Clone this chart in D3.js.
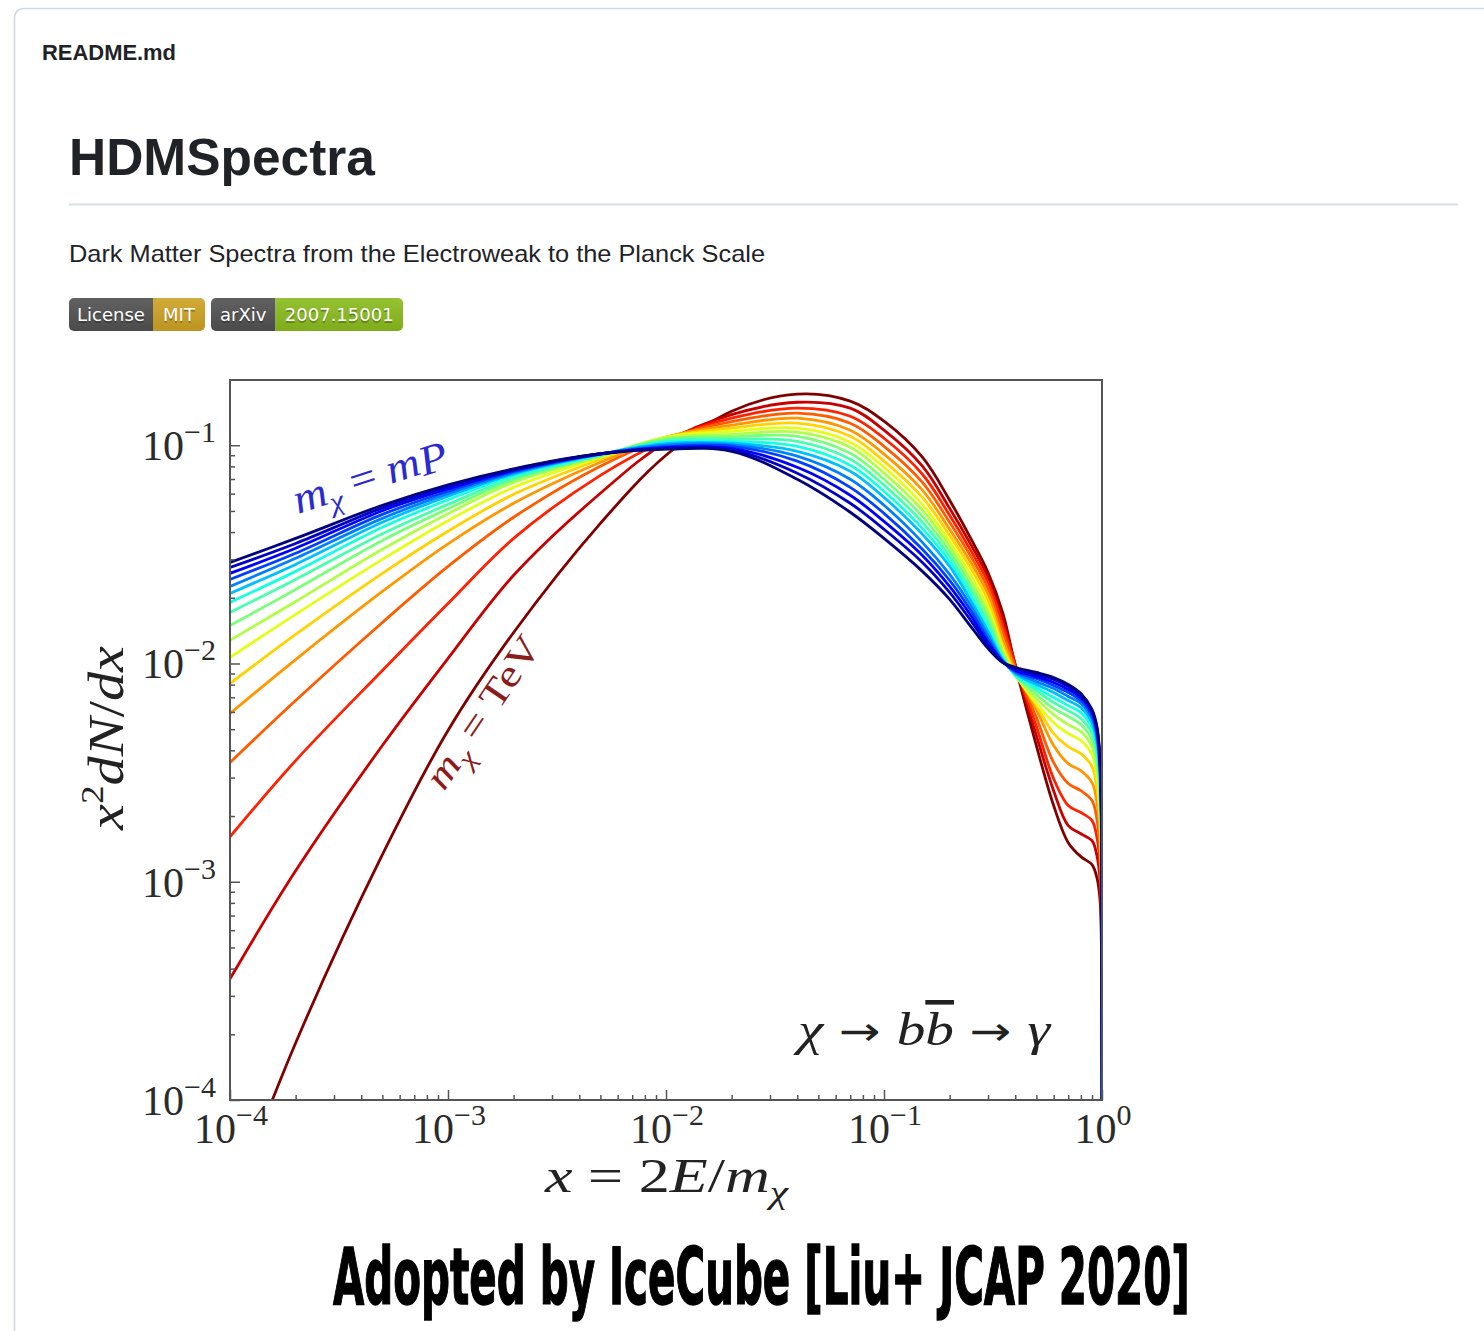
<!DOCTYPE html>
<html>
<head>
<meta charset="utf-8">
<script src="https://cdn.jsdelivr.net/npm/d3@7"></script>
<style>
  html, body { margin: 0; padding: 0; background: #ffffff; }
  svg { display: block; }
</style>
</head>
<body>
<svg id="page" width="1484" height="1331"></svg>
<script>
// ---- data: x = 2E/m_chi grid and log10(x^2 dN/dx) for chi -> b bbar -> gamma ----
const xGrid = [1e-4, 2e-4, 5e-4, 1e-3, 2e-3, 5e-3, 1e-2, 2e-2, 4e-2, 7e-2, 0.1, 0.15, 0.2, 0.25,
               0.3, 0.35, 0.4, 0.5, 0.6, 0.7, 0.8, 0.9, 0.95, 0.98, 0.995, 1.0];

// dark matter masses, log10(m_chi / GeV): 1 TeV up to the Planck mass
const log10Mass = [3, 4, 5, 6, 7, 8, 9, 10, 11, 12, 13, 14, 15, 16, 17, 18, 19.09];

const mx_1e03 = [-4.505, -3.739, -2.876, -2.307, -1.858, -1.358, -1.046, -0.844, -0.766, -0.798, -0.890, -1.055, -1.252, -1.427, -1.583, -1.766, -2.009, -2.376, -2.651, -2.821, -2.885, -2.922, -2.986, -3.087, -3.339, -6];
const mx_1e04 = [-3.445, -2.950, -2.376, -1.977, -1.596, -1.220, -0.986, -0.860, -0.803, -0.830, -0.931, -1.096, -1.289, -1.454, -1.606, -1.794, -2.005, -2.330, -2.583, -2.743, -2.780, -2.812, -2.885, -2.995, -3.271, -6];
const mx_1e05 = [-2.794, -2.445, -2.032, -1.725, -1.427, -1.138, -0.977, -0.876, -0.830, -0.867, -0.968, -1.133, -1.321, -1.482, -1.628, -1.821, -2.009, -2.289, -2.528, -2.651, -2.683, -2.720, -2.803, -2.927, -3.202, -6];
const mx_1e06 = [-2.454, -2.170, -1.812, -1.555, -1.330, -1.096, -0.968, -0.892, -0.853, -0.899, -1.005, -1.170, -1.353, -1.509, -1.656, -1.853, -2.018, -2.248, -2.454, -2.550, -2.583, -2.628, -2.720, -2.858, -3.142, -6];
const mx_1e07 = [-2.229, -1.982, -1.670, -1.452, -1.266, -1.078, -0.963, -0.908, -0.876, -0.931, -1.041, -1.206, -1.385, -1.537, -1.683, -1.885, -2.028, -2.211, -2.376, -2.459, -2.491, -2.546, -2.642, -2.794, -3.087, -6];
const mx_1e08 = [-2.092, -1.867, -1.587, -1.394, -1.225, -1.064, -0.963, -0.922, -0.899, -0.959, -1.073, -1.239, -1.413, -1.564, -1.711, -1.913, -2.041, -2.193, -2.321, -2.381, -2.413, -2.472, -2.578, -2.734, -3.032, -6];
const mx_1e09 = [-1.972, -1.775, -1.523, -1.346, -1.193, -1.055, -0.963, -0.936, -0.922, -0.986, -1.101, -1.271, -1.440, -1.592, -1.739, -1.931, -2.050, -2.183, -2.271, -2.321, -2.353, -2.417, -2.523, -2.683, -2.977, -6];
const mx_1e10 = [-1.894, -1.716, -1.477, -1.314, -1.170, -1.050, -0.968, -0.950, -0.940, -1.009, -1.128, -1.298, -1.463, -1.619, -1.766, -1.945, -2.055, -2.161, -2.234, -2.280, -2.312, -2.381, -2.482, -2.642, -2.931, -6];
const mx_1e11 = [-1.826, -1.661, -1.436, -1.291, -1.159, -1.048, -0.972, -0.961, -0.959, -1.037, -1.156, -1.326, -1.486, -1.642, -1.789, -1.959, -2.055, -2.142, -2.206, -2.243, -2.280, -2.349, -2.450, -2.606, -2.890, -6];
const mx_1e12 = [-1.766, -1.615, -1.406, -1.271, -1.150, -1.046, -0.979, -0.972, -0.982, -1.064, -1.183, -1.353, -1.509, -1.665, -1.812, -1.968, -2.055, -2.124, -2.179, -2.216, -2.252, -2.321, -2.417, -2.573, -2.853, -6];
const mx_1e13 = [-1.720, -1.578, -1.376, -1.250, -1.139, -1.044, -0.986, -0.982, -1.005, -1.092, -1.211, -1.381, -1.532, -1.688, -1.835, -1.977, -2.050, -2.110, -2.156, -2.193, -2.225, -2.294, -2.390, -2.546, -2.821, -6];
const mx_1e14 = [-1.679, -1.546, -1.353, -1.234, -1.132, -1.041, -0.993, -0.991, -1.028, -1.119, -1.239, -1.408, -1.555, -1.711, -1.853, -1.982, -2.046, -2.096, -2.133, -2.170, -2.202, -2.271, -2.367, -2.523, -2.794, -6];
const mx_1e15 = [-1.647, -1.518, -1.335, -1.222, -1.126, -1.041, -1.000, -0.998, -1.050, -1.156, -1.275, -1.445, -1.592, -1.734, -1.872, -1.986, -2.041, -2.083, -2.115, -2.151, -2.183, -2.252, -2.344, -2.500, -2.766, -6];
const mx_1e16 = [-1.615, -1.495, -1.317, -1.211, -1.121, -1.041, -1.007, -1.005, -1.073, -1.193, -1.312, -1.477, -1.619, -1.757, -1.890, -1.991, -2.037, -2.069, -2.101, -2.133, -2.170, -2.239, -2.326, -2.482, -2.748, -6];
const mx_1e17 = [-1.587, -1.472, -1.300, -1.200, -1.115, -1.039, -1.011, -1.014, -1.101, -1.229, -1.349, -1.505, -1.647, -1.780, -1.904, -1.991, -2.032, -2.060, -2.087, -2.119, -2.156, -2.225, -2.312, -2.468, -2.734, -6];
const mx_1e18 = [-1.560, -1.450, -1.287, -1.190, -1.112, -1.039, -1.016, -1.021, -1.128, -1.266, -1.385, -1.537, -1.674, -1.803, -1.917, -1.995, -2.023, -2.050, -2.073, -2.106, -2.147, -2.216, -2.303, -2.454, -2.725, -6];
const mx_mPl  = [-1.537, -1.427, -1.275, -1.181, -1.108, -1.039, -1.018, -1.028, -1.156, -1.307, -1.427, -1.578, -1.706, -1.830, -1.931, -1.995, -2.018, -2.041, -2.064, -2.096, -2.138, -2.211, -2.294, -2.445, -2.720, -6];

const spectra = [mx_1e03, mx_1e04, mx_1e05, mx_1e06, mx_1e07, mx_1e08, mx_1e09, mx_1e10, mx_1e11,
                 mx_1e12, mx_1e13, mx_1e14, mx_1e15, mx_1e16, mx_1e17, mx_1e18, mx_mPl];

// axis ticks
const xDecades = [1e-4, 1e-3, 1e-2, 1e-1, 1];
const xDecadeExp = ["\u22124", "\u22123", "\u22122", "\u22121", "0"];
const yDecades = [1e-4, 1e-3, 1e-2, 1e-1];
const yDecadeExp = ["\u22124", "\u22123", "\u22122", "\u22121"];
const yTop = 0.199;

// ---- page ----
const svg = d3.select("#page");
const uiFont = "'Liberation Sans', Arial, 'Noto Sans', sans-serif";
const mathFont = "'Liberation Serif', 'DejaVu Serif', serif";

svg.append("rect")
  .attr("x", 14.5).attr("y", 8.5).attr("width", 1520).attr("height", 1400)
  .attr("rx", 9).attr("fill", "#ffffff").attr("stroke", "#d0d7de").attr("stroke-width", 1.5);

svg.append("text").attr("x", 42).attr("y", 60)
  .attr("font-family", uiFont).attr("font-weight", 700).attr("font-size", 22)
  .attr("fill", "#1f2328").attr("textLength", 134).attr("lengthAdjust", "spacingAndGlyphs")
  .text("README.md");

svg.append("text").attr("x", 69).attr("y", 175)
  .attr("font-family", uiFont).attr("font-weight", 700).attr("font-size", 52)
  .attr("fill", "#1f2328").attr("textLength", 306).attr("lengthAdjust", "spacingAndGlyphs")
  .text("HDMSpectra");

svg.append("line").attr("x1", 69).attr("x2", 1458).attr("y1", 204.5).attr("y2", 204.5)
  .attr("stroke", "#d8dee4").attr("stroke-width", 2);

svg.append("text").attr("x", 69).attr("y", 262)
  .attr("font-family", uiFont).attr("font-size", 24)
  .attr("fill", "#1f2328").attr("textLength", 696).attr("lengthAdjust", "spacingAndGlyphs")
  .text("Dark Matter Spectra from the Electroweak to the Planck Scale");

// badges
const badges = [
  { label: "License", value: "MIT", x0: 69, x1: 153, x2: 205, color: "#d5a826" },
  { label: "arXiv", value: "2007.15001", x0: 211, x1: 275.5, x2: 403, color: "#8fc31f" }
];
const defs = svg.append("defs");
const gloss = defs.append("linearGradient").attr("id", "gloss").attr("x1", 0).attr("x2", 0).attr("y1", 0).attr("y2", 1);
gloss.append("stop").attr("offset", "0").attr("stop-color", "#bbbbbb").attr("stop-opacity", 0.12);
gloss.append("stop").attr("offset", "1").attr("stop-opacity", 0.12);
badges.forEach((b, i) => {
  const cid = "badgeClip" + i;
  defs.append("clipPath").attr("id", cid).append("rect")
    .attr("x", b.x0).attr("y", 298).attr("width", b.x2 - b.x0).attr("height", 33).attr("rx", 5);
  const g = svg.append("g").attr("clip-path", `url(#${cid})`);
  g.append("rect").attr("x", b.x0).attr("y", 298).attr("width", b.x1 - b.x0).attr("height", 33).attr("fill", "#555555");
  g.append("rect").attr("x", b.x1).attr("y", 298).attr("width", b.x2 - b.x1).attr("height", 33).attr("fill", b.color);
  g.append("rect").attr("x", b.x0).attr("y", 298).attr("width", b.x2 - b.x0).attr("height", 33).attr("fill", "url(#gloss)");
  [[b.label, (b.x0 + b.x1) / 2], [b.value, (b.x1 + b.x2) / 2]].forEach(([t, cx]) => {
    g.append("text").attr("x", cx).attr("y", 322.5).attr("text-anchor", "middle")
      .attr("font-family", "'DejaVu Sans', Verdana, sans-serif").attr("font-size", 18)
      .attr("fill", "#010101").attr("fill-opacity", 0.3).text(t);
    g.append("text").attr("x", cx).attr("y", 321).attr("text-anchor", "middle")
      .attr("font-family", "'DejaVu Sans', Verdana, sans-serif").attr("font-size", 18)
      .attr("fill", "#ffffff").text(t);
  });
});

// ---- chart ----
const plot = { left: 230, right: 1102, top: 380, bottom: 1100 };
const x = d3.scaleLog().domain([1e-4, 1]).range([plot.left, plot.right]);
const y = d3.scaleLog().domain([1e-4, yTop]).range([plot.bottom, plot.top]);

// matplotlib "jet" colour map, evaluated channel by channel
const jetR = d3.scaleLinear().domain([0, 0.35, 0.66, 0.89, 1]).range([0, 0, 1, 1, 0.5]).clamp(true);
const jetG = d3.scaleLinear().domain([0, 0.125, 0.375, 0.64, 0.91, 1]).range([0, 0, 1, 1, 0, 0]).clamp(true);
const jetB = d3.scaleLinear().domain([0, 0.11, 0.34, 0.65, 1]).range([0.5, 1, 1, 0, 0]).clamp(true);
const jet = t => d3.rgb(255 * jetR(t), 255 * jetG(t), 255 * jetB(t)).formatHex();
const massT = d3.scaleLinear().domain([0, log10Mass.length - 1]).range([1, 0]);

defs.append("clipPath").attr("id", "plotClip").append("rect")
  .attr("x", plot.left).attr("y", plot.top)
  .attr("width", plot.right - plot.left).attr("height", plot.bottom - plot.top);

const line = d3.line().x(d => x(d.x)).y(d => y(d.y)).curve(d3.curveCatmullRom.alpha(0.5));

const curves = svg.append("g").attr("clip-path", "url(#plotClip)");
spectra.forEach((s, i) => {
  const pts = xGrid.map((xv, k) => ({ x: xv, y: Math.pow(10, s[k]) }));
  curves.append("path").datum(pts)
    .attr("d", line)
    .attr("fill", "none")
    .attr("stroke", jet(massT(i)))
    .attr("stroke-width", 2.8)
    .attr("stroke-linejoin", "round");
});

// frame
svg.append("rect").attr("x", plot.left).attr("y", plot.top)
  .attr("width", plot.right - plot.left).attr("height", plot.bottom - plot.top)
  .attr("fill", "none").attr("stroke", "#555555").attr("stroke-width", 2);

// ticks (pointing into the plot)
const xMinor = d3.range(-4, 0).flatMap(e => d3.range(2, 10).map(m => m * Math.pow(10, e)));
const yMinor = d3.range(-4, 0).flatMap(e => d3.range(2, 10).map(m => m * Math.pow(10, e))).filter(v => v < yTop);

function styleAxis(g) {
  g.select(".domain").remove();
  g.selectAll("line").attr("stroke", "#555555").attr("stroke-width", 1.5);
}
svg.append("g").attr("transform", `translate(0,${plot.bottom})`)
  .call(d3.axisBottom(x).tickValues(xDecades).tickSize(-10).tickFormat("")).call(styleAxis);
svg.append("g").attr("transform", `translate(0,${plot.bottom})`)
  .call(d3.axisBottom(x).tickValues(xMinor).tickSize(-5).tickFormat("")).call(styleAxis);
svg.append("g").attr("transform", `translate(${plot.left},0)`)
  .call(d3.axisLeft(y).tickValues(yDecades).tickSize(-10).tickFormat("")).call(styleAxis);
svg.append("g").attr("transform", `translate(${plot.left},0)`)
  .call(d3.axisLeft(y).tickValues(yMinor).tickSize(-5).tickFormat("")).call(styleAxis);

// tick labels 10^n
function powerLabel(sel, exp) {
  sel.append("tspan").attr("font-size", 42).text("10");
  sel.append("tspan").attr("font-size", 30).attr("dy", -18).text(exp);
}
xDecades.forEach((v, k) => {
  const t = svg.append("text").attr("x", x(v) + 1).attr("y", plot.bottom + 43)
    .attr("text-anchor", "middle").attr("font-family", mathFont).attr("fill", "#2b2b2b");
  powerLabel(t, xDecadeExp[k]);
});
yDecades.forEach((v, k) => {
  const t = svg.append("text").attr("x", 216).attr("y", y(v) + 15)
    .attr("text-anchor", "end").attr("font-family", mathFont).attr("fill", "#2b2b2b");
  powerLabel(t, yDecadeExp[k]);
});

// axis titles
const xt = svg.append("text").attr("x", 545).attr("y", 1192)
  .attr("font-family", mathFont).attr("font-size", 48).attr("fill", "#222222")
  .attr("textLength", 243).attr("lengthAdjust", "spacingAndGlyphs");
xt.append("tspan").attr("font-style", "italic").text("x");
xt.append("tspan").text(" = 2");
xt.append("tspan").attr("font-style", "italic").text("E");
xt.append("tspan").text("/");
xt.append("tspan").attr("font-style", "italic").text("m");
xt.append("tspan").attr("font-style", "italic").attr("font-size", 32).attr("dy", 11).text("\u03c7");

const yt = svg.append("text").attr("transform", "translate(123,738) rotate(-90)")
  .attr("text-anchor", "middle").attr("font-family", mathFont).attr("font-size", 50).attr("fill", "#222222")
  .attr("textLength", 184).attr("lengthAdjust", "spacingAndGlyphs");
yt.append("tspan").attr("font-style", "italic").text("x");
yt.append("tspan").attr("font-size", 32).attr("dy", -20).text("2");
yt.append("tspan").attr("font-style", "italic").attr("dy", 20).text("dN");
yt.append("tspan").text("/");
yt.append("tspan").attr("font-style", "italic").text("dx");

// curve annotations
const lblP = svg.append("text").attr("transform", "translate(298,514) rotate(-18)")
  .attr("font-family", mathFont).attr("font-size", 42).attr("fill", "#2a2ad2")
  .attr("textLength", 160).attr("lengthAdjust", "spacingAndGlyphs");
lblP.append("tspan").attr("font-style", "italic").text("m");
lblP.append("tspan").attr("font-style", "italic").attr("font-size", 28).attr("dy", 9).text("\u03c7");
lblP.append("tspan").attr("dy", -9).text(" = ");
lblP.append("tspan").attr("font-style", "italic").text("m");
lblP.append("tspan").attr("font-style", "italic").attr("dy", 3).text("P");

const lblT = svg.append("text").attr("transform", "translate(444,792) rotate(-56)")
  .attr("font-family", mathFont).attr("font-size", 38).attr("fill", "#8a1c1c")
  .attr("textLength", 176).attr("lengthAdjust", "spacingAndGlyphs");
lblT.append("tspan").attr("font-style", "italic").text("m");
lblT.append("tspan").attr("font-style", "italic").attr("font-size", 26).attr("dy", 9).text("\u03c7");
lblT.append("tspan").attr("dy", -9).text(" = TeV");

const chan = svg.append("text").attr("x", 798).attr("y", 1045)
  .attr("font-family", mathFont).attr("font-size", 46).attr("fill", "#222222")
  .attr("textLength", 252).attr("lengthAdjust", "spacingAndGlyphs");
chan.append("tspan").attr("font-style", "italic").text("\u03c7");
chan.append("tspan").attr("font-family", "'DejaVu Sans', sans-serif").attr("font-size", 40).text(" \u2192 ");
chan.append("tspan").attr("font-style", "italic").text("b");
chan.append("tspan").attr("font-style", "italic")
  .style("text-decoration", "overline").style("text-decoration-thickness", "2px").text("b");
chan.append("tspan").attr("font-family", "'DejaVu Sans', sans-serif").attr("font-size", 40).text(" \u2192 ");
chan.append("tspan").attr("font-style", "italic").text("\u03b3");

// caption under the figure, squeezed to its column width
const cap = svg.append("text").attr("x", 0).attr("y", 0)
  .attr("font-family", "'Liberation Sans Narrow', 'DejaVu Sans Condensed', 'Liberation Sans', sans-serif")
  .attr("font-weight", 700).attr("font-size", 78).attr("fill", "#000000")
  .attr("stroke", "#000000").attr("stroke-width", 1.4)
  .text("Adopted by IceCube [Liu+ JCAP 2020]");
const capW = cap.node().getComputedTextLength();
cap.attr("transform", `translate(333,1304) scale(${857 / capW},1)`);
</script>
</body>
</html>
